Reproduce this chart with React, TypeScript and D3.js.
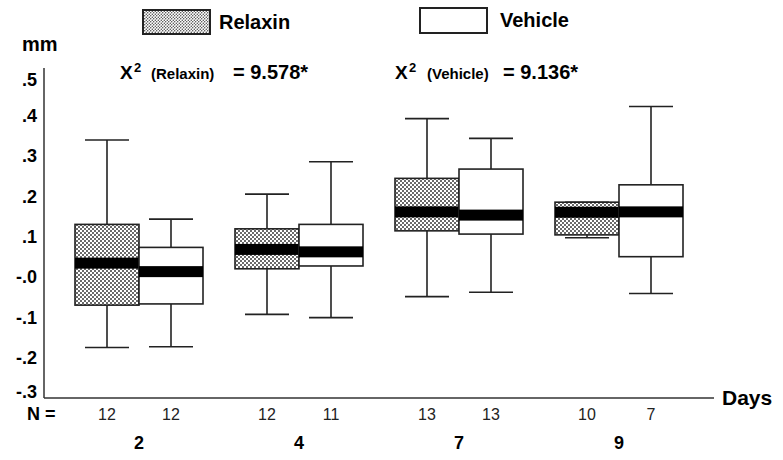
import React from 'react';
import * as d3 from 'd3';

const days = ['2', '4', '7', '9'];
const seriesNames = ['Relaxin', 'Vehicle'];

const relaxinN = [12, 12, 13, 10];
const vehicleN = [12, 11, 13, 7];

const relaxinMin = [-0.175, -0.093, -0.049, 0.097];
const relaxinQ1 = [-0.07, 0.02, 0.114, 0.104];
const relaxinMed = [0.034, 0.068, 0.161, 0.16];
const relaxinQ3 = [0.13, 0.119, 0.244, 0.185];
const relaxinMax = [0.339, 0.205, 0.392, 0.185];

const vehicleMin = [-0.173, -0.101, -0.038, -0.041];
const vehicleQ1 = [-0.067, 0.027, 0.106, 0.05];
const vehicleMed = [0.013, 0.062, 0.153, 0.161];
const vehicleQ3 = [0.073, 0.13, 0.267, 0.228];
const vehicleMax = [0.143, 0.285, 0.343, 0.422];

const yTicks = [0.5, 0.4, 0.3, 0.2, 0.1, 0, -0.1, -0.2, -0.3];
const yTickLabels = ['.5', '.4', '.3', '.2', '.1', '-.0', '-.1', '-.2', '-.3'];

const W = 783;
const H = 460;
const FONT = '"Liberation Sans", Arial, Helvetica, sans-serif';

const App = () => {
  const y = d3.scaleLinear().domain([-0.3, 0.5]).range([398, 75]);
  const xGroup = d3.scaleBand().domain(days).range([59, 699]);
  const xSeries = d3.scaleBand().domain(seriesNames).range([-64, 64]);
  const boxW = xSeries.bandwidth();
  const capW = 44;
  const medH = 11;

  const boxes = days.flatMap((d, i) => [
    {
      day: d, series: 'Relaxin', n: relaxinN[i],
      min: relaxinMin[i], q1: relaxinQ1[i], med: relaxinMed[i], q3: relaxinQ3[i], max: relaxinMax[i],
    },
    {
      day: d, series: 'Vehicle', n: vehicleN[i],
      min: vehicleMin[i], q1: vehicleQ1[i], med: vehicleMed[i], q3: vehicleQ3[i], max: vehicleMax[i],
    },
  ]);

  const stroke = '#222';
  // end labels sit a little inside the axis ends, as in the original figure
  const tickY = (t: number) => Math.min(Math.max(y(t), 80), 392);

  return (
    <svg width={W} height={H} style={{ position: 'absolute', left: 0, top: 0, background: '#fff' }} fontFamily={FONT}>
      <defs>
        <pattern id="stipple" width="4" height="4" patternUnits="userSpaceOnUse">
          <rect width="4" height="4" fill="#fff" />
          <circle cx="1" cy="1" r="0.95" fill="#2a2a2a" />
          <circle cx="3" cy="3" r="0.95" fill="#2a2a2a" />
        </pattern>
        <pattern id="stippleFine" width="3" height="3" patternUnits="userSpaceOnUse">
          <rect width="3" height="3" fill="#fff" />
          <circle cx="0.75" cy="0.75" r="0.7" fill="#333" />
          <circle cx="2.25" cy="2.25" r="0.7" fill="#333" />
        </pattern>
      </defs>
      <rect width={W} height={H} fill="#fff" />

      {/* legend */}
      <rect x={143} y={10} width={67} height={24} fill="url(#stippleFine)" stroke={stroke} strokeWidth={2} />
      <text x={219} y={29} fontSize={20} fontWeight="bold">Relaxin</text>
      <rect x={420} y={8} width={67} height={25} fill="#fff" stroke={stroke} strokeWidth={2} />
      <text x={500} y={27} fontSize={20} fontWeight="bold">Vehicle</text>

      {/* chi-square notes */}
      <text x={120} y={79} fontSize={19} fontWeight="bold">X</text>
      <text x={134} y={72} fontSize={13} fontWeight="bold">2</text>
      <text x={151} y={79} fontSize={15} fontWeight="bold">(Relaxin)</text>
      <text x={233} y={79} fontSize={20} fontWeight="bold">= 9.578*</text>
      <text x={395} y={79} fontSize={19} fontWeight="bold">X</text>
      <text x={409} y={72} fontSize={13} fontWeight="bold">2</text>
      <text x={427} y={79} fontSize={15} fontWeight="bold">(Vehicle)</text>
      <text x={503} y={79} fontSize={20} fontWeight="bold">= 9.136*</text>

      {/* y axis */}
      <text x={22} y={51} fontSize={20} fontWeight="bold">mm</text>
      <line x1={44} x2={44} y1={68} y2={398} stroke="#333" strokeWidth={1.5} />
      {yTicks.map((t, i) => (
        <text key={t} x={37} y={tickY(t)} dy="0.36em" textAnchor="end" fontSize={18} fontWeight="bold">
          {yTickLabels[i]}
        </text>
      ))}

      {/* x axis */}
      <line x1={44} x2={714} y1={398} y2={398} stroke="#333" strokeWidth={1.5} />
      <text x={722} y={405} fontSize={21} fontWeight="bold">Days</text>
      <text x={27} y={420} fontSize={18} fontWeight="bold">N =</text>

      {days.map((d) => (
        <text key={d} x={(xGroup(d) ?? 0) + xGroup.bandwidth() / 2} y={449} textAnchor="middle" fontSize={18} fontWeight="bold">
          {d}
        </text>
      ))}

      {boxes.map((b) => {
        const cx = (xGroup(b.day) ?? 0) + xGroup.bandwidth() / 2 + (xSeries(b.series) ?? 0) + boxW / 2;
        const x0 = cx - boxW / 2;
        return (
          <g key={b.day + b.series}>
            <line x1={cx} x2={cx} y1={y(b.max)} y2={y(b.q3)} stroke={stroke} strokeWidth={1.6} />
            <line x1={cx} x2={cx} y1={y(b.q1)} y2={y(b.min)} stroke={stroke} strokeWidth={1.6} />
            <line x1={cx - capW / 2} x2={cx + capW / 2} y1={y(b.max)} y2={y(b.max)} stroke={stroke} strokeWidth={1.6} />
            <line x1={cx - capW / 2} x2={cx + capW / 2} y1={y(b.min)} y2={y(b.min)} stroke={stroke} strokeWidth={1.6} />
            <rect
              x={x0}
              y={y(b.q3)}
              width={boxW}
              height={y(b.q1) - y(b.q3)}
              fill={b.series === 'Relaxin' ? 'url(#stipple)' : '#fff'}
              stroke={stroke}
              strokeWidth={1.6}
            />
            <rect x={x0} y={y(b.med) - medH / 2} width={boxW} height={medH} fill="#000" />
            <text x={cx} y={420} textAnchor="middle" fontSize={16} fill="#222">{b.n}</text>
          </g>
        );
      })}
    </svg>
  );
};

export default App;
